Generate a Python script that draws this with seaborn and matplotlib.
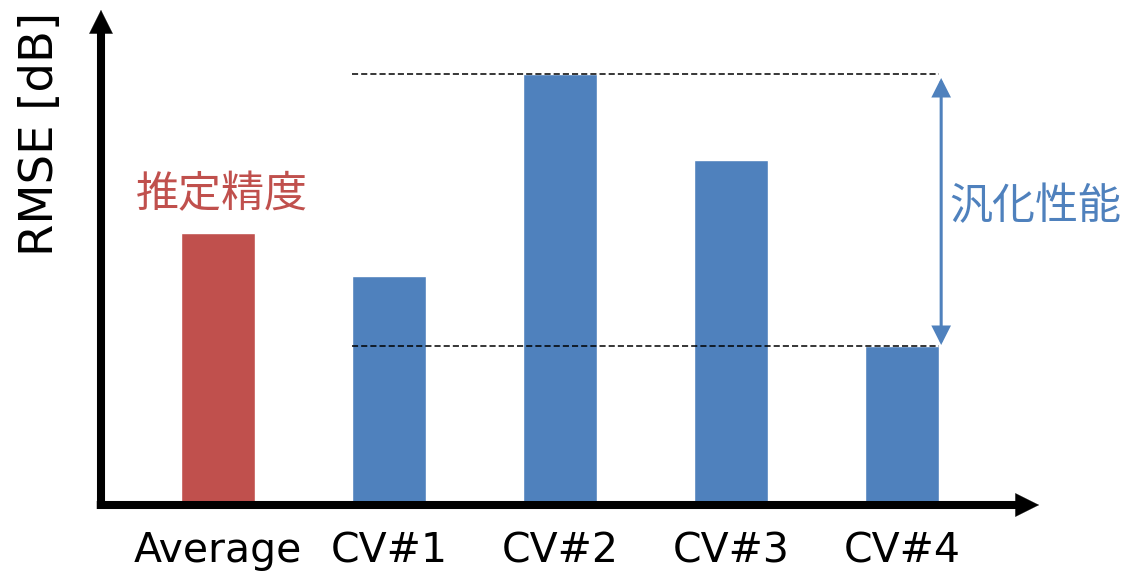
import matplotlib
matplotlib.use("Agg")
import matplotlib.pyplot as plt
import seaborn as sns
import pandas as pd

categories = ["Average", "CV#1", "CV#2", "CV#3", "CV#4"]
rmse = [2.72, 2.29, 4.31, 3.45, 1.59]
groups = ["avg", "cv", "cv", "cv", "cv"]
ylabel = "RMSE [dB]"
label_avg = "推定精度"
label_gen = "汎化性能"

RED = "#C0504D"
BLUE = "#4F81BD"

sns.set_theme(style="white")
plt.rcParams['font.family'] = ['DejaVu Sans', 'Noto Sans CJK JP']

df = pd.DataFrame({"cat": categories, "rmse": rmse, "grp": groups})

W, H = 1124, 572
fig = plt.figure(figsize=(W / 100, H / 100), dpi=100)
ax_w_px, ax_h_px = 1039 - 101, 495
ax = fig.add_axes([101 / W, 67 / H, ax_w_px / W, ax_h_px / H])

bw = 0.433
sns.barplot(data=df, x="cat", y="rmse", hue="grp", palette={"avg": RED, "cv": BLUE},
            width=bw, dodge=False, legend=False, ax=ax, saturation=1)

ax.set_xlim(-0.684, 4.80)
ax.set_ylim(0, 4.95)
for s in ax.spines.values():
    s.set_visible(False)
ax.set_yticks([])
ax.set_xlabel("")
ax.set_ylabel("")
ax.tick_params(axis="x", length=0, pad=19, labelsize=29.5, labelcolor="black")

# axes arrows: shaft and head drawn separately
head_px = 23
line_kw = dict(arrowstyle="-", lw=5.8, color="black", shrinkA=0, shrinkB=0, capstyle="butt")
head_kw = dict(arrowstyle="-|>,head_length=16.6,head_width=8.3", mutation_scale=1,
               lw=0.3, color="black", shrinkA=0, shrinkB=0)
hy = head_px / ax_h_px
hx = head_px / ax_w_px
# y axis
ax.annotate("", xy=(0, 1 - hy + 0.004), xytext=(0, -0.008), xycoords="axes fraction",
            arrowprops=line_kw, annotation_clip=False)
ax.annotate("", xy=(0, 1), xytext=(0, 1 - hy), xycoords="axes fraction",
            arrowprops=head_kw, annotation_clip=False)
# x axis
ax.annotate("", xy=(1 - hx + 0.003, 0), xytext=(-0.0045, 0), xycoords="axes fraction",
            arrowprops=line_kw, annotation_clip=False)
ax.annotate("", xy=(1, 0), xytext=(1 - hx, 0), xycoords="axes fraction",
            arrowprops=head_kw, annotation_clip=False)

cv_vals = rmse[1:]
x0 = 1 - bw / 2
x1 = 4 + bw / 2
ax.hlines([max(cv_vals), min(cv_vals)], x0, x1, colors="black", linestyles=(0, (4, 2)),
          lw=1.1, clip_on=False)

xa = 4.228
ax.annotate("", xy=(xa, max(cv_vals) - 0.04), xytext=(xa, min(cv_vals) + 0.01),
            arrowprops=dict(arrowstyle="<|-|>,head_length=10.5,head_width=5.3", mutation_scale=1,
                            lw=2.2, color=BLUE, shrinkA=0, shrinkB=0,
                            joinstyle="miter", capstyle="butt"),
            annotation_clip=False)

ax.text(0.025, 3.10, label_avg, color=RED, fontsize=31, ha="center", va="center",
        family=["Noto Sans CJK JP", "DejaVu Sans"])
ax.text(4.275, 2.98, label_gen, color=BLUE, fontsize=31, ha="left", va="center",
        family=["Noto Sans CJK JP", "DejaVu Sans"])

fig.text(40 / W, 1 - 134 / H, ylabel, rotation=90, fontsize=33.5, ha="center", va="center",
         color="black")

fig.savefig("out.png", dpi=100)
